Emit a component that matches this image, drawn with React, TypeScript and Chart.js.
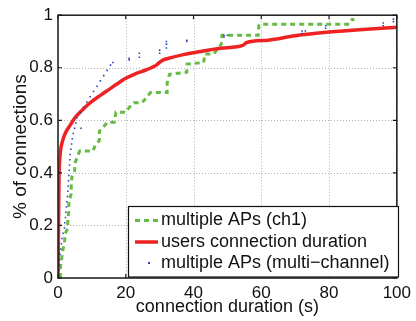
import React, { useEffect, useRef } from "react";
import { Chart, registerables } from "chart.js";

Chart.register(...registerables);

const FONT = "'Liberation Sans', Arial, Helvetica, sans-serif";

const xTicks = [0, 20, 40, 60, 80, 100];
const yTicks = [0, 0.2, 0.4, 0.6, 0.8, 1];

const legendLabels = [
  "multiple APs (ch1)",
  "users connection duration",
  "multiple APs (multi\u2212channel)",
];

// multiple APs (ch1) — step CDF vertices
const greenX = [0.7, 0.7, 1.1, 1.4, 1.9, 2.1, 2.9, 2.9, 3.2, 3.2, 3.9, 3.9, 4.1, 4.9, 5.1, 5.8, 6.4, 10.3, 11, 12.2, 12.2, 14.6, 16.6, 17.1, 20, 21, 22.4, 24.8, 26.3, 27.3, 32.2, 32.2, 32.9, 35.3, 38, 38.1, 40.5, 43, 43.3, 45.9, 48.2, 48.4, 59.1, 59.3, 59.5, 86, 86.8, 87.5];
const greenY = [0, 0.04, 0.074, 0.105, 0.13, 0.168, 0.19, 0.225, 0.256, 0.29, 0.32, 0.35, 0.385, 0.407, 0.44, 0.464, 0.483, 0.483, 0.505, 0.523, 0.558, 0.593, 0.593, 0.631, 0.631, 0.649, 0.667, 0.667, 0.69, 0.706, 0.706, 0.741, 0.775, 0.779, 0.783, 0.814, 0.817, 0.82, 0.852, 0.852, 0.89, 0.924, 0.924, 0.962, 0.966, 0.966, 0.984, 0.984];

// users connection duration — smooth CDF
const redX = [0, 0.15, 0.3, 0.5, 0.8, 1.2, 1.8, 2.5, 3.5, 4.5, 5, 6.3, 8, 10, 12.5, 15, 17.5, 20, 22.5, 25, 27.5, 29, 30.5, 32.7, 37, 42.5, 48, 54.7, 55.7, 62, 70, 80, 90, 100];
const redY = [0, 0.2, 0.38, 0.45, 0.49, 0.515, 0.54, 0.56, 0.58, 0.6, 0.61, 0.628, 0.65, 0.672, 0.695, 0.717, 0.739, 0.76, 0.775, 0.787, 0.8, 0.81, 0.826, 0.836, 0.85, 0.863, 0.874, 0.886, 0.896, 0.905, 0.922, 0.936, 0.946, 0.954];

// multiple APs (multi-channel) — dots
const blueX = [0.2, 0.3, 0.4, 0.5, 0.6, 0.8, 1.0, 1.2, 1.5, 1.9, 2.0, 2.2, 2.3, 2.5, 2.6, 2.8, 2.9, 3.0, 3.1, 3.2, 3.3, 3.4, 3.5, 3.6, 3.8, 4.0, 4.2, 4.5, 4.9, 5.3, 5.6, 6.8, 6.5, 7.5, 8.5, 9.5, 10.5, 11.5, 12.5, 13.5, 14.5, 15.5, 16.2, 21, 21, 24, 24, 30, 30, 32, 32, 32, 38, 38, 49, 49, 50, 72, 72, 73, 79, 79, 96, 96, 99, 99];
const blueY = [0.01, 0.03, 0.05, 0.07, 0.09, 0.11, 0.13, 0.15, 0.17, 0.19, 0.21, 0.23, 0.25, 0.27, 0.29, 0.31, 0.33, 0.35, 0.37, 0.39, 0.41, 0.43, 0.45, 0.47, 0.49, 0.51, 0.53, 0.55, 0.57, 0.59, 0.61, 0.57, 0.63, 0.65, 0.67, 0.69, 0.71, 0.73, 0.75, 0.77, 0.79, 0.81, 0.82, 0.83, 0.836, 0.84, 0.855, 0.855, 0.867, 0.875, 0.89, 0.9, 0.905, 0.9, 0.917, 0.924, 0.924, 0.93, 0.94, 0.94, 0.95, 0.96, 0.96, 0.97, 0.975, 0.985];

const GREEN = "#66bb44";
const RED = "#ee2222";
const BLUE = "#2c44b8";

const pts = (xs: number[], ys: number[]) => xs.map((x, i) => ({ x, y: ys[i] }));

const frame = {
  id: "frame",
  beforeDatasetsDraw(chart: any) {
    const { ctx, chartArea: a, scales } = chart;
    ctx.save();
    ctx.strokeStyle = "#b4b4b4";
    ctx.lineWidth = 1;
    ctx.setLineDash([1, 2]);
    xTicks.forEach((v) => {
      const x = Math.round(scales.x.getPixelForValue(v)) + 0.5;
      ctx.beginPath();
      ctx.moveTo(x, a.top);
      ctx.lineTo(x, a.bottom);
      ctx.stroke();
    });
    yTicks.forEach((v) => {
      const y = Math.round(scales.y.getPixelForValue(v)) + 0.5;
      ctx.beginPath();
      ctx.moveTo(a.left, y);
      ctx.lineTo(a.right, y);
      ctx.stroke();
    });
    ctx.restore();
  },
  afterDraw(chart: any) {
    const { ctx, chartArea: a, scales } = chart;
    ctx.save();
    ctx.setLineDash([]);
    ctx.strokeStyle = "#1a1a1a";
    ctx.lineWidth = 1.5;
    ctx.strokeRect(a.left, a.top, a.right - a.left, a.bottom - a.top);
    const tl = 4;
    ctx.lineWidth = 1.2;
    xTicks.forEach((v) => {
      const x = scales.x.getPixelForValue(v);
      ctx.beginPath();
      ctx.moveTo(x, a.bottom);
      ctx.lineTo(x, a.bottom - tl);
      ctx.moveTo(x, a.top);
      ctx.lineTo(x, a.top + tl);
      ctx.stroke();
    });
    yTicks.forEach((v) => {
      const y = scales.y.getPixelForValue(v);
      ctx.beginPath();
      ctx.moveTo(a.left, y);
      ctx.lineTo(a.left + tl, y);
      ctx.moveTo(a.right, y);
      ctx.lineTo(a.right - tl, y);
      ctx.stroke();
    });

    // legend
    const L = 128.5, T = 206.5, R = 398.5, B = 277;
    ctx.fillStyle = "#ffffff";
    ctx.fillRect(L, T, R - L, B - T);
    ctx.strokeStyle = "#111";
    ctx.lineWidth = 1.2;
    ctx.strokeRect(L, T, R - L, B - T);
    const rows = [220.5, 242, 263];
    const sx0 = 135, sx1 = 158, tx = 161;
    ctx.strokeStyle = GREEN;
    ctx.lineWidth = 3;
    ctx.setLineDash([5, 4]);
    ctx.beginPath();
    ctx.moveTo(sx0, rows[0]);
    ctx.lineTo(sx1, rows[0]);
    ctx.stroke();
    ctx.setLineDash([]);
    ctx.strokeStyle = RED;
    ctx.lineWidth = 3.5;
    ctx.beginPath();
    ctx.moveTo(sx0, rows[1]);
    ctx.lineTo(sx1, rows[1]);
    ctx.stroke();
    ctx.fillStyle = BLUE;
    ctx.fillRect(148, rows[2] - 1, 2, 2);
    ctx.fillStyle = "#111";
    ctx.font = `18px ${FONT}`;
    ctx.textBaseline = "middle";
    ctx.textAlign = "left";
    legendLabels.forEach((t, i) => ctx.fillText(t, tx, rows[i]));
    ctx.restore();
  },
};

export default function App() {
  const ref = useRef<HTMLCanvasElement | null>(null);
  useEffect(() => {
    if (!ref.current) return;
    const chart = new Chart(ref.current, {
      type: "line",
      data: {
        datasets: [
          {
            label: legendLabels[0],
            data: pts(greenX, greenY),
            borderColor: GREEN,
            borderWidth: 3,
            borderDash: [5, 4],
            pointRadius: 0,
            tension: 0,
            fill: false,
            order: 2,
          },
          {
            label: legendLabels[1],
            data: pts(redX, redY),
            borderColor: RED,
            borderWidth: 3.5,
            pointRadius: 0,
            cubicInterpolationMode: "monotone",
            fill: false,
            order: 1,
          },
          {
            label: legendLabels[2],
            data: pts(blueX, blueY),
            showLine: false,
            pointStyle: "rect",
            pointRadius: 1.1,
            pointBorderWidth: 0,
            backgroundColor: BLUE,
            pointBackgroundColor: BLUE,
            borderColor: BLUE,
            order: 0,
          },
        ] as any,
      },
      options: {
        responsive: false,
        animation: false,
        events: [],
        layout: { padding: { top: 13, right: 16, left: 0, bottom: 0 } },
        plugins: { legend: { display: false }, tooltip: { enabled: false } },
        scales: {
          x: {
            type: "linear",
            min: 0,
            max: 100,
            afterBuildTicks: (s: any) => {
              s.ticks = xTicks.map((v) => ({ value: v }));
            },
            afterFit: (s: any) => {
              s.height = 43;
            },
            grid: { display: false, drawTicks: false },
            border: { display: false },
            ticks: {
              color: "#111",
              font: { family: FONT, size: 17 },
              padding: 5,
              maxRotation: 0,
              autoSkip: false,
              callback: (v: any) => String(v),
            },
            title: {
              display: true,
              text: "connection duration (s)",
              color: "#111",
              font: { family: FONT, size: 18 },
              padding: { top: 0, bottom: 3 },
            },
          },
          y: {
            type: "linear",
            min: 0,
            max: 1,
            afterBuildTicks: (s: any) => {
              s.ticks = yTicks.map((v) => ({ value: v }));
            },
            afterFit: (s: any) => {
              s.width = 58;
            },
            grid: { display: false, drawTicks: false },
            border: { display: false },
            ticks: {
              color: "#111",
              font: { family: FONT, size: 17 },
              padding: 5,
              autoSkip: false,
              callback: (v: any) => String(Math.round(v * 10) / 10),
            },
            title: {
              display: true,
              text: "% of connections",
              color: "#111",
              font: { family: FONT, size: 19 },
              padding: { top: 9, bottom: 0 },
            },
          },
        },
      },
      plugins: [frame],
    } as any);
    return () => chart.destroy();
  }, []);
  return (
    <div style={{ position: "absolute", left: 0, top: 0, width: 416, height: 321, background: "#fff" }}>
      <canvas ref={ref} width={416} height={321} style={{ display: "block" }} />
    </div>
  );
}
